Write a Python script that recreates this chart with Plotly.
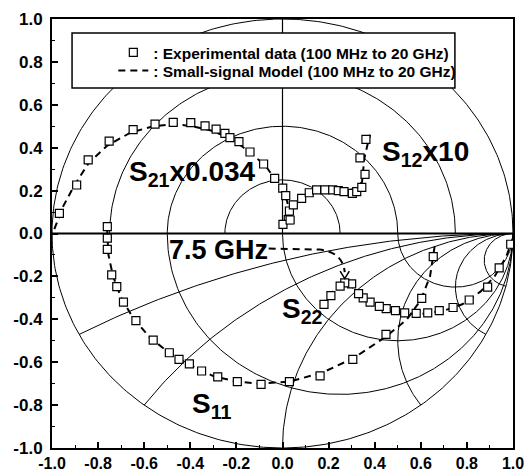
import numpy as np
import plotly.graph_objects as go

# ---------------- data ----------------
# S11 experimental (100 MHz -> 20 GHz)
s11_re = [0.654, 0.604, 0.449, 0.305, 0.163, 0.030, -0.093, -0.196, -0.281, -0.351, -0.404,
          -0.449, -0.491, -0.561, -0.636, -0.690, -0.719, -0.741, -0.760, -0.760, -0.760]
s11_im = [-0.108, -0.302, -0.470, -0.587, -0.664, -0.691, -0.703, -0.691, -0.668, -0.641, -0.608,
          -0.587, -0.556, -0.497, -0.406, -0.320, -0.248, -0.193, -0.074, -0.022, 0.032]
# S11 model
m11_re = [0.660, 0.640, 0.600, 0.540, 0.450, 0.310, 0.170, 0.030, -0.100, -0.200, -0.300, -0.400,
          -0.500, -0.580, -0.650, -0.700, -0.735, -0.755, -0.760, -0.760]
m11_im = [-0.060, -0.200, -0.310, -0.400, -0.480, -0.580, -0.650, -0.690, -0.700, -0.690, -0.665,
          -0.615, -0.550, -0.480, -0.390, -0.300, -0.200, -0.100, 0.000, 0.040]

# S21 x 0.034 experimental
s21_re = [-0.968, -0.893, -0.843, -0.752, -0.648, -0.553, -0.474, -0.398, -0.336, -0.288, -0.250,
          -0.228, -0.189, -0.141, -0.082, -0.034, 0.001, 0.014, 0.030, 0.025, 0.002]
s21_im = [0.094, 0.226, 0.343, 0.431, 0.484, 0.510, 0.518, 0.517, 0.502, 0.487, 0.467,
          0.447, 0.428, 0.380, 0.324, 0.257, 0.212, 0.177, 0.105, 0.065, 0.043]
# S21 model
m21_re = [-0.990, -0.950, -0.900, -0.840, -0.760, -0.660, -0.560, -0.470, -0.390, -0.310, -0.240,
          -0.180, -0.120, -0.070, -0.030, 0.000, 0.020, 0.030, 0.025, 0.010]
m21_im = [0.020, 0.130, 0.230, 0.330, 0.410, 0.470, 0.500, 0.510, 0.500, 0.480, 0.450,
          0.410, 0.360, 0.310, 0.250, 0.200, 0.150, 0.100, 0.060, 0.030]

# S12 x 10 experimental
s12_re = [0.033, 0.047, 0.083, 0.116, 0.148, 0.184, 0.218, 0.242, 0.267, 0.303, 0.322, 0.344,
          0.358, 0.336, 0.362]
s12_im = [0.063, 0.133, 0.164, 0.190, 0.203, 0.203, 0.203, 0.200, 0.195, 0.187, 0.195, 0.215,
          0.276, 0.353, 0.439]
# S12 model
m12_re = [0.010, 0.030, 0.060, 0.100, 0.150, 0.220, 0.280, 0.320, 0.345, 0.350, 0.355, 0.370, 0.380]
m12_im = [0.030, 0.080, 0.140, 0.180, 0.200, 0.205, 0.200, 0.210, 0.240, 0.290, 0.350, 0.420, 0.460]

# S22 experimental
s22_re = [0.990, 0.940, 0.890, 0.810, 0.740, 0.680, 0.630, 0.580, 0.530, 0.490, 0.450, 0.420,
          0.380, 0.350, 0.330, 0.300, 0.270, 0.250, 0.210, 0.180]
s22_im = [-0.050, -0.160, -0.250, -0.310, -0.345, -0.360, -0.370, -0.372, -0.370, -0.360, -0.350,
          -0.340, -0.320, -0.300, -0.280, -0.235, -0.230, -0.245, -0.290, -0.330]
# S22 model
m22_re = [1.000, 0.970, 0.920, 0.860, 0.780, 0.700, 0.600, 0.500, 0.420, 0.360, 0.320, 0.290,
          0.260, 0.220, 0.180, 0.160]
m22_im = [-0.020, -0.110, -0.200, -0.270, -0.330, -0.360, -0.375, -0.370, -0.345, -0.310, -0.270,
          -0.235, -0.235, -0.270, -0.320, -0.340]

tick_vals = [-1.0, -0.8, -0.6, -0.4, -0.2, 0.0, 0.2, 0.4, 0.6, 0.8, 1.0]
tick_text = ["-1.0", "-0.8", "-0.6", "-0.4", "-0.2", "0.0", "0.2", "0.4", "0.6", "0.8", "1.0"]

legend_data = ": Experimental data (100 MHz to 20 GHz)"
legend_model = ": Small-signal Model (100 MHz to 20 GHz)"

# Smith-chart grid definition
mag_circles = [0.25, 0.5, 0.75]          # |Gamma| circles (upper half)
r_circles = [1 / 3, 1.0, 3.0]            # constant resistance (lower half)
x_arcs = [0.25, 0.5, 1.0, 2.0, 4.0, 8.0]  # constant (capacitive) reactance (lower half)

FONT = "Liberation Sans, Arial, Helvetica, sans-serif"

# ---------------- grid geometry ----------------
gx, gy = [], []
t = np.linspace(0, 2 * np.pi, 400)
gx += list(np.cos(t)) + [None]
gy += list(np.sin(t)) + [None]
th = np.linspace(0, np.pi, 200)
for m in mag_circles:
    gx += list(m * np.cos(th)) + [None]
    gy += list(m * np.sin(th)) + [None]
xs = -np.concatenate([np.linspace(0, 5, 300), np.logspace(np.log10(5.01), 4, 300)])
for r in r_circles:
    g = ((r + 1j * xs) - 1) / ((r + 1j * xs) + 1)
    gx += list(g.real) + [None]
    gy += list(g.imag) + [None]
rs = np.concatenate([np.linspace(0, 5, 300), np.logspace(np.log10(5.01), 4, 300)])
for xv in x_arcs:
    g = ((rs - 1j * xv) - 1) / ((rs - 1j * xv) + 1)
    gx += list(g.real) + [None]
    gy += list(g.imag) + [None]

fig = go.Figure()
fig.add_trace(go.Scatter(x=gx, y=gy, mode="lines", line=dict(color="black", width=1),
                         hoverinfo="skip", showlegend=False))
fig.add_trace(go.Scatter(x=[-1, 1], y=[0, 0], mode="lines", line=dict(color="black", width=1.8),
                         hoverinfo="skip", showlegend=False))
fig.add_trace(go.Scatter(x=[0, 0], y=[0, 1], mode="lines", line=dict(color="black", width=1.2),
                         hoverinfo="skip", showlegend=False))

dash = "7px,5px"
models = [(m11_re, m11_im), (m21_re, m21_im), (m12_re, m12_im), (m22_re, m22_im)]
for i, (mx, my) in enumerate(models):
    fig.add_trace(go.Scatter(x=mx, y=my, mode="lines", name=legend_model,
                             line=dict(color="black", width=2, dash=dash),
                             showlegend=(i == 0), legend="legend2"))
datas = [(s11_re, s11_im), (s21_re, s21_im), (s12_re, s12_im), (s22_re, s22_im)]
for i, (dx, dy) in enumerate(datas):
    fig.add_trace(go.Scatter(x=dx, y=dy, mode="markers", name=legend_data,
                             marker=dict(symbol="square", size=8, color="white",
                                         line=dict(color="black", width=1.2)),
                             showlegend=(i == 0), legend="legend"))

# legend frame (white box drawn over the grid)
fig.add_shape(type="rect", xref="x", yref="y", x0=-0.913, x1=0.748, y0=0.678, y1=0.935,
              fillcolor="white", line=dict(color="black", width=1.5), layer="above")

# leader for 7.5 GHz (dashed curve + small arrowhead)
fig.add_shape(type="path", xref="x", yref="y",
              path="M -0.06,-0.07 L 0.16,-0.075 Q 0.26,-0.085 0.27,-0.18",
              line=dict(color="black", width=2, dash=dash), layer="above")
fig.add_shape(type="path", xref="x", yref="y",
              path="M 0.25,-0.175 L 0.27,-0.21 L 0.29,-0.175",
              line=dict(color="black", width=1.5), layer="above")

def label(txt, x, y, size):
    fig.add_annotation(x=x, y=y, xref="x", yref="y", text=txt, showarrow=False,
                       xanchor="left", yanchor="middle",
                       font=dict(family=FONT, size=size, color="black"))

label("<b>S<sub>21</sub>x0.034</b>", -0.675, 0.28, 28)
label("<b>S<sub>12</sub>x10</b>", 0.425, 0.375, 28)
label("<b>S<sub>22</sub></b>", -0.012, -0.36, 28)
label("<b>S<sub>11</sub></b>", -0.40, -0.80, 28)
label("<b>7.5 GHz</b>", -0.50, -0.075, 27)

axis_common = dict(range=[-1, 1], tickvals=tick_vals, ticktext=tick_text, ticks="inside",
                   ticklen=6, tickwidth=1.5, tickcolor="black", showgrid=False, zeroline=False,
                   showline=True, linecolor="black", linewidth=2, mirror=True,
                   minor=dict(ticks="inside", dtick=0.1, ticklen=3, tickwidth=1.2, tickcolor="black",
                              showgrid=False),
                   automargin=False, fixedrange=True)
fig.update_xaxes(**axis_common, ticklabelstandoff=0,
                 tickfont=dict(family=FONT, size=16, color="black", weight="bold"))
fig.update_yaxes(**axis_common, ticklabelstandoff=4,
                 tickfont=dict(family=FONT, size=17, color="black", weight="bold"))

leg_common = dict(xanchor="left", yanchor="middle", bgcolor="rgba(0,0,0,0)", borderwidth=0,
                  font=dict(family=FONT, size=15.5, color="black", weight="bold"))
fig.update_layout(
    width=531, height=471,
    margin=dict(l=52, r=18, t=19, b=23),
    paper_bgcolor="white", plot_bgcolor="white",
    showlegend=True,
    legend=dict(x=0.133, y=0.921, **leg_common),
    legend2=dict(x=0.133, y=0.879, **leg_common),
)

fig.write_html("out.html", config={"displayModeBar": False},
               post_script="document.body.style.margin='0';")
